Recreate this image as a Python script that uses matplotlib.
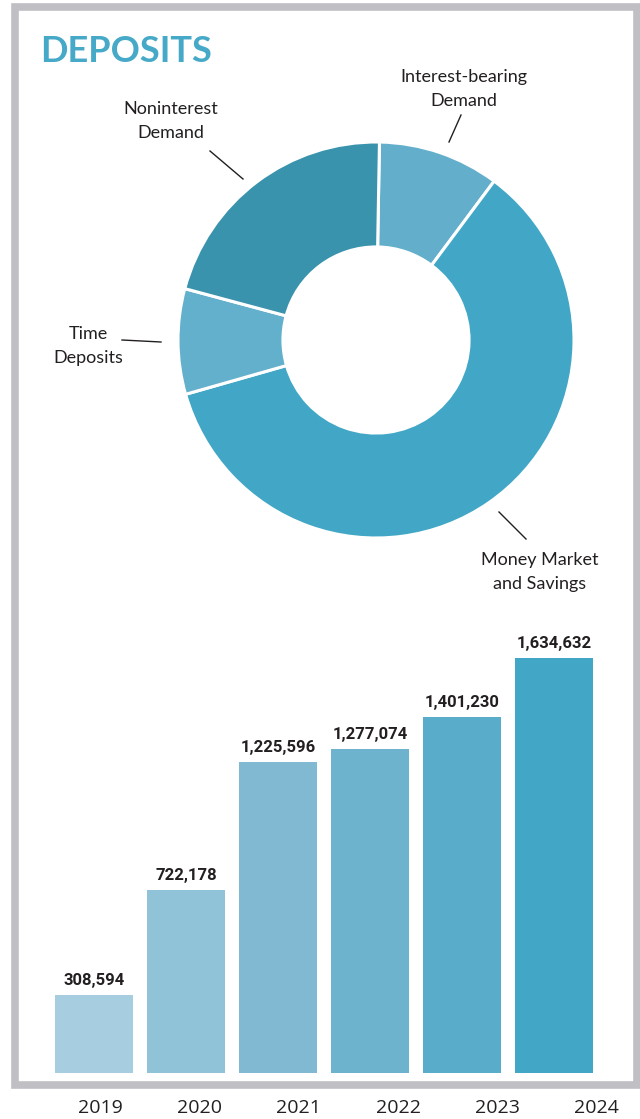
import matplotlib.pyplot as plt
from matplotlib.patches import Rectangle
from matplotlib.lines import Line2D

# deposit mix (share of total, %), clockwise from 12 o'clock
mix_labels = ["Interest-bearing\nDemand", "Money Market\nand Savings",
              "Time\nDeposits", "Noninterest\nDemand"]
mix_share = [9.9, 60.4, 8.6, 21.1]
mix_colors = ["#63afcb", "#42a7c6", "#63b0cc", "#3a93ad"]

# total deposits by year
years = ["2019", "2020", "2021", "2022", "2023", "2024"]
deposits = [308594, 722178, 1225596, 1277074, 1401230, 1634632]
bar_colors = ["#a6cde0", "#91c3d8", "#81b9d3", "#6db3cd", "#59acca", "#42a7c6"]

W, H = 640, 1119
TEXT = "#231f20"


def fx(px):
    return px / W


def fy(py):
    return 1 - py / H


fig = plt.figure(figsize=(W / 100, H / 100), dpi=100)

# grey frame around the panel
fig.patches.append(Rectangle((fx(14.5), fy(1085)), fx(637) - fx(14.5), fy(7.2) - fy(1085),
                             transform=fig.transFigure, fill=False,
                             edgecolor="#c0bfc4", linewidth=5.5, joinstyle="miter"))

fig.text(fx(40), fy(62), "DEPOSITS", fontsize=26, fontweight="bold",
         family="Lato", color="#45a9c7", va="baseline", ha="left")

# --- donut
ax_pie = fig.add_axes([fx(178), fy(538), 396 / W, 396 / H])
ax_pie.pie(mix_share, colors=mix_colors, startangle=89, counterclock=False,
           radius=1, wedgeprops=dict(width=0.53, edgecolor="white", linewidth=2.2))
ax_pie.set_xlim(-1, 1)
ax_pie.set_ylim(-1, 1)
ax_pie.set_aspect("equal")
ax_pie.axis("off")

# label text positions and leader lines (pixel coords)
label_pos = [(464, 89), (540, 572), (88, 346), (171, 121)]
leaders = [((461, 115), (449, 142)), ((499, 512), (526, 539)),
           ((122, 340), (161, 342)), ((210, 151), (243, 179))]
for text, (lx, ly), (p0, p1) in zip(mix_labels, label_pos, leaders):
    fig.text(fx(lx), fy(ly), text, ha="center", va="center", fontsize=13,
             family="Lato", color=TEXT, linespacing=1.6)
    fig.lines.append(Line2D([fx(p0[0]), fx(p1[0])], [fy(p0[1]), fy(p1[1])],
                            transform=fig.transFigure, color=TEXT, linewidth=1.0))

# --- bars
ax = fig.add_axes([fx(48), fy(1073), 552 / W, 473 / H])
x = range(len(years))
bars = ax.bar(x, deposits, width=0.846, color=bar_colors)
ax.bar_label(bars, labels=[f"{v:,}" for v in deposits], padding=5,
             fontsize=12, fontweight="bold", color=TEXT, family="Roboto")
ax.set_xlim(-0.5, 5.5)
ax.set_ylim(0, 1.863e6)
ax.axis("off")

# year labels sit under the frame
ax_years = fig.add_axes([50.9 / W, fy(1089), 595.2 / W, 0.0001])
ax_years.set_xlim(-0.5, 5.5)
ax_years.set_xticks(list(x), years)
ax_years.tick_params(axis="x", length=0, pad=7.5, labelsize=14, labelcolor=TEXT)
for lab in ax_years.get_xticklabels():
    lab.set_family("Open Sans")
ax_years.set_yticks([])
for s in ax_years.spines.values():
    s.set_visible(False)
ax_years.patch.set_alpha(0)

fig.savefig("out.png", dpi=100)
